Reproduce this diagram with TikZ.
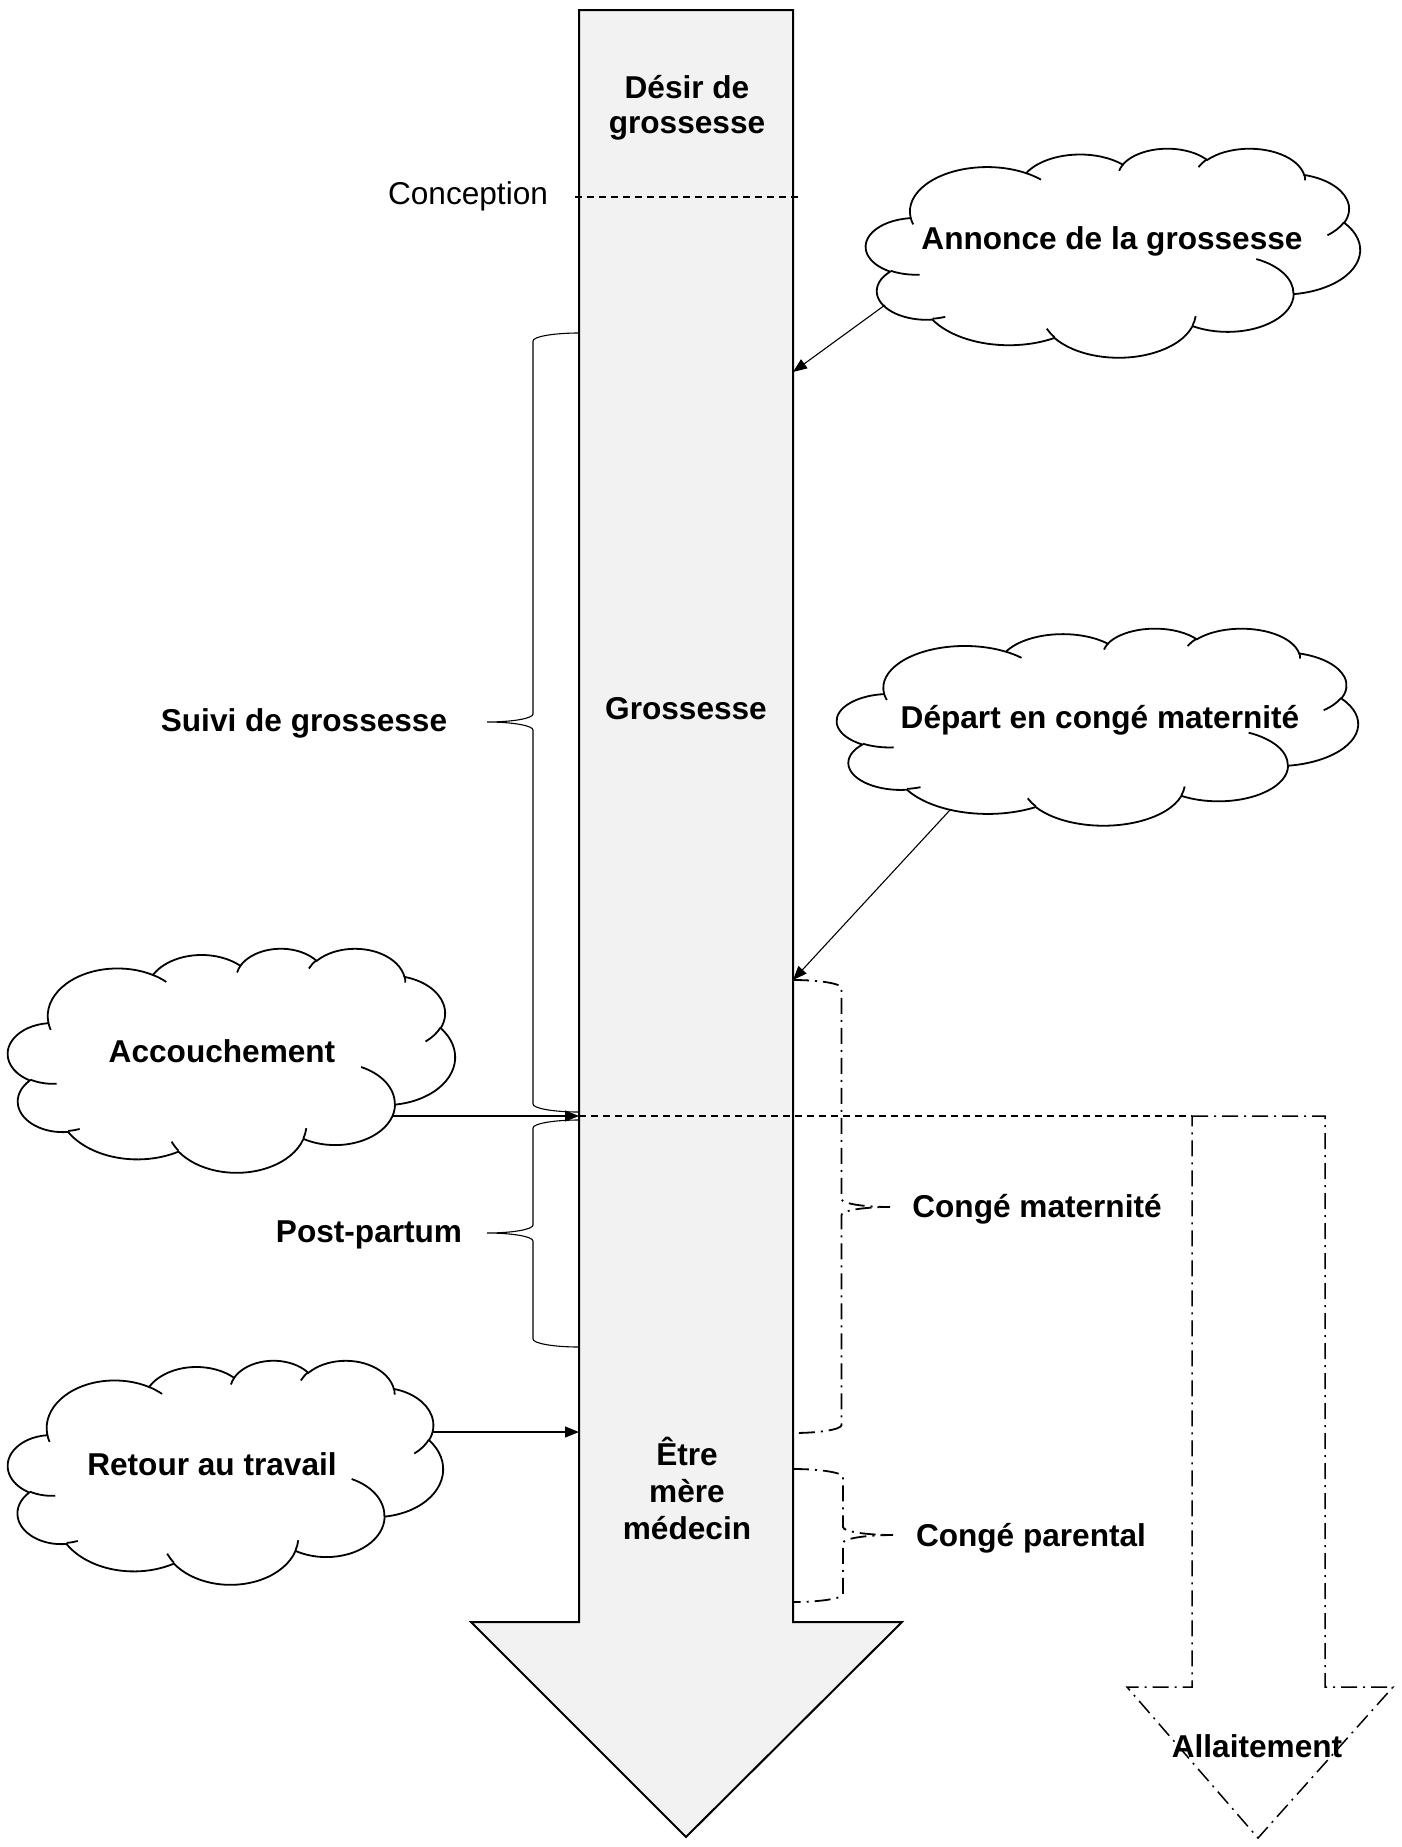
\documentclass[tikz,border=0pt]{standalone}
\usepackage{fontspec}
\setmainfont{Liberation Sans}
\usetikzlibrary{arrows.meta}
\definecolor{shaftgray}{HTML}{F2F2F2}
\newcommand\lblfont{\fontsize{15.8}{18}\selectfont\bfseries}
\newcommand\regfont{\fontsize{15.8}{18}\selectfont}
% parametric angles of the Word cloud arcs
\newcommand\mkcarc[5]{%
  \pgfmathsetmacro\tmpS{atan2((#2)*sin(#4),(#3)*cos(#4))}%
  \pgfmathsetmacro\tmpE{atan2((#2)*sin((#4)+(#5)),(#3)*cos((#4)+(#5)))}%
  \pgfmathsetmacro\tmpD{mod(\tmpE-\tmpS+720,360)}%
  \expandafter\xdef\csname cS#1\endcsname{\tmpS}%
  \expandafter\xdef\csname cD#1\endcsname{\tmpD}%
}
\mkcarc{oa}{6.753}{9.190}{-190.48748}{123.78053}
\mkcarc{ob}{5.333}{7.267}{-144.10238}{89.94523}
\mkcarc{oc}{4.365}{5.945}{-145.80792}{99.72302}
\mkcarc{od}{4.857}{6.595}{-130.98607}{117.24173}
\mkcarc{oe}{5.333}{7.273}{-78.70888}{109.02692}
\mkcarc{of}{6.775}{9.220}{-46.26725}{130.26900}
\mkcarc{og}{5.785}{7.867}{0.62502}{114.03333}
\mkcarc{oh}{6.752}{9.215}{22.45160}{115.17255}
\mkcarc{oi}{7.720}{10.543}{66.24263}{75.71102}
\mkcarc{oj}{4.360}{5.918}{-274.94208}{146.73557}
\mkcarc{ok}{4.345}{5.945}{-246.82850}{152.51885}
\mkcarc{ia}{4.345}{5.945}{86.74200}{26.42950}
\mkcarc{ib}{4.360}{5.918}{73.61047}{11.44747}
\mkcarc{ic}{6.752}{9.215}{137.62415}{14.08110}
\mkcarc{id}{6.752}{9.215}{6.45327}{15.99835}
\mkcarc{ie}{5.785}{7.867}{-70.29235}{70.91737}
\mkcarc{if}{5.333}{7.273}{30.31803}{27.75150}
\mkcarc{ig}{4.857}{6.595}{-13.74433}{14.85890}
\mkcarc{ih}{4.857}{6.595}{-149.18145}{18.19537}
\mkcarc{ii}{4.365}{5.945}{-163.49427}{17.68635}
\mkcarc{ij}{6.753}{9.190}{-66.70695}{12.31935}
\mkcarc{ik}{6.753}{9.190}{157.65435}{11.85817}
% cloud: #1 x0, #2 y0, #3 width, #4 height (px)
\newcommand\wordcloud[4]{%
  \begin{scope}[shift={(#1,#2)}, xscale=#3/43.2, yscale=#4/43.2]
    \filldraw[cloudline, fill=white] (3.9,14.37)
      arc[start angle=\cSoa, delta angle=\cDoa, x radius=6.753, y radius=9.190]
      arc[start angle=\cSob, delta angle=\cDob, x radius=5.333, y radius=7.267]
      arc[start angle=\cSoc, delta angle=\cDoc, x radius=4.365, y radius=5.945]
      arc[start angle=\cSod, delta angle=\cDod, x radius=4.857, y radius=6.595]
      arc[start angle=\cSoe, delta angle=\cDoe, x radius=5.333, y radius=7.273]
      arc[start angle=\cSof, delta angle=\cDof, x radius=6.775, y radius=9.220]
      arc[start angle=\cSog, delta angle=\cDog, x radius=5.785, y radius=7.867]
      arc[start angle=\cSoh, delta angle=\cDoh, x radius=6.752, y radius=9.215]
      arc[start angle=\cSoi, delta angle=\cDoi, x radius=7.720, y radius=10.543]
      arc[start angle=\cSoj, delta angle=\cDoj, x radius=4.360, y radius=5.918]
      arc[start angle=\cSok, delta angle=\cDok, x radius=4.345, y radius=5.945]
      -- cycle;
    \draw[cloudline]
      (4.693,26.177) arc[start angle=\cSia, delta angle=\cDia, x radius=4.345, y radius=5.945]
      (6.928,34.899) arc[start angle=\cSib, delta angle=\cDib, x radius=4.360, y radius=5.918]
      (16.478,39.090) arc[start angle=\cSic, delta angle=\cDic, x radius=6.752, y radius=9.215]
      (28.827,34.751) arc[start angle=\cSid, delta angle=\cDid, x radius=6.752, y radius=9.215]
      (34.129,22.954) arc[start angle=\cSie, delta angle=\cDie, x radius=5.785, y radius=7.867]
      (41.798,15.354) arc[start angle=\cSif, delta angle=\cDif, x radius=5.333, y radius=7.273]
      (38.324,5.426) arc[start angle=\cSig, delta angle=\cDig, x radius=4.857, y radius=6.595]
      (29.078,3.952) arc[start angle=\cSih, delta angle=\cDih, x radius=4.857, y radius=6.595]
      (22.141,4.720) arc[start angle=\cSii, delta angle=\cDii, x radius=4.365, y radius=5.945]
      (14.000,5.192) arc[start angle=\cSij, delta angle=\cDij, x radius=6.753, y radius=9.190]
      (4.127,15.789) arc[start angle=\cSik, delta angle=\cDik, x radius=6.753, y radius=9.190];
  \end{scope}}
% left brace (tip on the left): #1 style, #2 l, #3 r, #4 t, #5 b, #6 ym, #7 ry
\newcommand\leftcurly[7]{%
  \pgfmathsetmacro\bhc{(#2+#3)/2}%
  \pgfmathsetmacro\brx{(#3-#2)/2}%
  \draw[#1] (#3,#4) .. controls ({#3-0.552*\brx},#4) and (\bhc,{#4+0.448*#7}) .. (\bhc,{#4+#7})
    -- (\bhc,{#6-#7}) .. controls (\bhc,{#6-0.448*#7}) and ({#2+0.552*\brx},#6) .. (#2,#6)
    .. controls ({#2+0.552*\brx},#6) and (\bhc,{#6+0.448*#7}) .. (\bhc,{#6+#7})
    -- (\bhc,{#5-#7}) .. controls (\bhc,{#5-0.448*#7}) and ({#3-0.552*\brx},#5) .. (#3,#5);}
% right brace (tip on the right)
\newcommand\rightcurly[7]{%
  \pgfmathsetmacro\bhc{(#2+#3)/2}%
  \pgfmathsetmacro\brx{(#3-#2)/2}%
  \draw[#1] (#2,#4) .. controls ({#2+0.552*\brx},#4) and (\bhc,{#4+0.448*#7}) .. (\bhc,{#4+#7})
    -- (\bhc,{#6-#7}) .. controls (\bhc,{#6-0.448*#7}) and ({#3-0.552*\brx},#6) .. (#3,#6)
    .. controls ({#3-0.552*\brx},#6) and (\bhc,{#6+0.448*#7}) .. (\bhc,{#6+#7})
    -- (\bhc,{#5-#7}) .. controls (\bhc,{#5-0.448*#7}) and ({#2+0.552*\brx},#5) .. (#2,#5);}
\begin{document}
\begin{tikzpicture}[x=0.5pt, y=-0.5pt,
  txt/.style={inner sep=0pt, anchor=base, font=\lblfont},
  cloudline/.style={line width=0.9pt, draw=black},
  conn/.style={line width=0.55pt, -{Triangle[length=7pt,width=5.5pt]}},
  bracethin/.style={line width=0.55pt},
  bracedd/.style={line width=0.9pt, dash pattern=on 8pt off 3pt on 1pt off 3pt},
  ddash/.style={line width=0.75pt, dash pattern=on 8pt off 3pt on 1pt off 3pt},
  dashline/.style={line width=0.75pt, dash pattern=on 3.5pt off 2.5pt}]
\useasboundingbox (0,0) rectangle (1402,1847);
\fill[white] (0,0) rectangle (1402,1847);

% main arrow
\filldraw[fill=shaftgray, line width=1pt, line join=miter]
  (579,10) -- (793,10) -- (793,1622) -- (902,1622) -- (686,1837) -- (471,1622) -- (579,1622) -- cycle;

% allaitement arrow
\draw[ddash, line join=miter]
  (1192,1116) -- (1325,1116) -- (1325,1687) -- (1393,1687) -- (1258,1838) -- (1127,1687) -- (1192,1687) -- cycle;

% coordinates on the arrows
\coordinate (shaftA) at (793,372);
\coordinate (shaftD) at (793,980);
\coordinate (shaftB) at (579,1116);
\coordinate (shaftR) at (579,1432);
\coordinate (allL) at (1192,1116);
\coordinate (concL) at (575,197);
\coordinate (concR) at (800,197);

% dashed lines
\draw[dashline] (concL) -- (concR);
\draw[dashline] (shaftB) -- (allL);

% clouds
\wordcloud{866}{148}{494}{209}
\wordcloud{837}{628}{521}{197}
\wordcloud{8}{948}{447}{224}
\wordcloud{8}{1360}{435}{224}

\coordinate (annS) at (885,305);
\coordinate (depS) at (950,810);
\coordinate (accS) at (393,1116);
\coordinate (retS) at (433,1432);

\draw[conn] (annS) -- (shaftA);
\draw[conn] (depS) -- (shaftD);
\draw[conn] (accS) -- (shaftB);
\draw[conn] (retS) -- (shaftR);

% braces
\leftcurly{bracethin}{487}{579}{333}{1112}{722}{8}
\leftcurly{bracethin}{487}{579}{1120}{1347}{1233}{8}
\rightcurly{bracedd}{793}{890}{980}{1433}{1207}{8}
\rightcurly{bracedd}{793}{893}{1469}{1602}{1535}{8}

% texts
\node[txt, font=\regfont] (conception) at (468,204) {Conception};
\node[txt] (desir1) at (687,98) {Désir de};
\node[txt] (desir2) at (687,133) {grossesse};
\node[txt] (grossesse) at (686,719) {Grossesse};
\node[txt] (etre1) at (687,1465) {Être};
\node[txt] (etre2) at (687,1502) {mère};
\node[txt] (etre3) at (687,1539) {médecin};
\node[txt] (annonce) at (1112,249) {Annonce de la grossesse};
\node[txt] (depart) at (1100,728) {Départ en congé maternité};
\node[txt] (accouch) at (222,1062) {Accouchement};
\node[txt] (retour) at (212,1475) {Retour au travail};
\node[txt] (suivi) at (304,731) {Suivi de grossesse};
\node[txt] (postp) at (369,1242) {Post-partum};
\node[txt] (congemat) at (1037,1217) {Congé maternité};
\node[txt] (congepar) at (1031,1546) {Congé parental};
\node[txt] (allait) at (1257,1757) {Allaitement};
\end{tikzpicture}
\end{document}
